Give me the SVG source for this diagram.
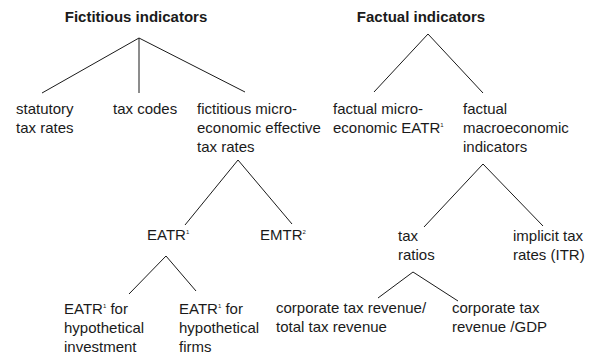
<svg xmlns="http://www.w3.org/2000/svg" width="590" height="354" viewBox="0 0 590 354">
<style>
text{font-family:"Liberation Sans",Arial,sans-serif;font-size:15px;fill:#1a1a1a}
.t{font-weight:bold}
.s{font-size:6px}
.c line{stroke:#1a1a1a;stroke-width:1}
</style>
<rect width="590" height="354" fill="#fff"/>
<g class="c" id="connectors">
<line x1="139" y1="38" x2="42" y2="93"/>
<line x1="139" y1="38" x2="139" y2="93"/>
<line x1="139" y1="38" x2="245" y2="92"/>
<line x1="428" y1="34" x2="374" y2="92"/>
<line x1="428" y1="34" x2="483" y2="93"/>
<line x1="238" y1="160" x2="185" y2="225"/>
<line x1="238" y1="160" x2="292" y2="224"/>
<line x1="483" y1="164" x2="424" y2="227"/>
<line x1="483" y1="164" x2="543" y2="226"/>
<line x1="166" y1="256" x2="129" y2="294"/>
<line x1="166" y1="256" x2="196" y2="291"/>
<line x1="413" y1="272" x2="378" y2="298"/>
<line x1="413" y1="272" x2="458" y2="301"/>
</g>
<g id="fictitious"><text class="t" x="136" y="22" text-anchor="middle">Fictitious indicators</text></g>
<g id="factual"><text class="t" x="421" y="22" text-anchor="middle">Factual indicators</text></g>
<g id="statutory"><text x="16" y="114">statutory</text><text x="16" y="133">tax rates</text></g>
<g id="taxcodes"><text x="113" y="114">tax codes</text></g>
<g id="fictmicro"><text x="197" y="114">fictitious micro-</text><text x="197" y="133">economic effective</text><text x="197" y="152">tax rates</text></g>
<g id="factmicro"><text x="333" y="114">factual micro-</text><text x="333" y="133">economic EATR<tspan class="s" dy="-6">1</tspan></text></g>
<g id="factmacro"><text x="463" y="114">factual</text><text x="463" y="133">macroeconomic</text><text x="463" y="152">indicators</text></g>
<g id="eatr"><text x="147" y="240">EATR<tspan class="s" dy="-6">1</tspan></text></g>
<g id="emtr"><text x="260" y="240">EMTR<tspan class="s" dy="-6">2</tspan></text></g>
<g id="taxratios"><text x="398" y="241">tax</text><text x="398" y="260">ratios</text></g>
<g id="itr"><text x="513" y="241">implicit tax</text><text x="513" y="260">rates (ITR)</text></g>
<g id="eatrinv"><text x="64" y="314">EATR<tspan class="s" dy="-6">1</tspan><tspan dy="6"> for</tspan></text><text x="64" y="333">hypothetical</text><text x="64" y="352">investment</text></g>
<g id="eatrfirms"><text x="179" y="314">EATR<tspan class="s" dy="-6">1</tspan><tspan dy="6"> for</tspan></text><text x="179" y="333">hypothetical</text><text x="179" y="352">firms</text></g>
<g id="ctrtotal"><text x="276" y="313">corporate tax revenue/</text><text x="276" y="332">total tax revenue</text></g>
<g id="ctrgdp"><text x="452" y="313">corporate tax</text><text x="452" y="332">revenue /GDP</text></g>
</svg>
